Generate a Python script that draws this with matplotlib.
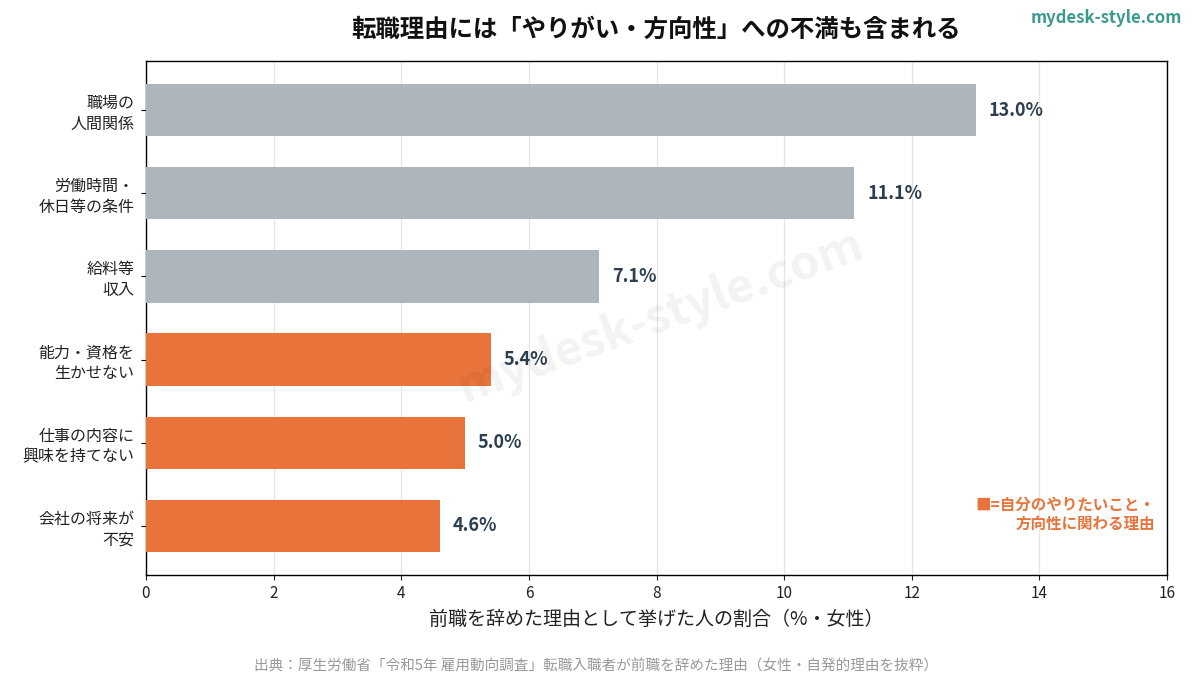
import matplotlib
matplotlib.use("Agg")
import matplotlib.pyplot as plt

plt.rcParams['font.family'] = ['Noto Sans CJK JP', 'DejaVu Sans']

categories = ["職場の\n人間関係", "労働時間・\n休日等の条件", "給料等\n収入",
              "能力・資格を\n生かせない", "仕事の内容に\n興味を持てない", "会社の将来が\n不安"]
values = [13.0, 11.1, 7.1, 5.4, 5.0, 4.6]
is_self = [False, False, False, True, True, True]

GRAY = "#adb5bd"
ORANGE = "#e8743b"
TEXT = "#2c3e50"

fig = plt.figure(figsize=(11.96, 6.76), dpi=100)
ax = fig.add_axes([146/1196, 1 - 575/676, (1167-146)/1196, (575-61)/676])

ypos = list(range(len(categories)))
colors = [ORANGE if s else GRAY for s in is_self]
ax.barh(ypos, values, height=0.63, color=colors, zorder=3)
ax.set_ylim(len(categories) - 0.41, -0.59)
ax.set_xlim(0, 16)
ax.set_xticks(range(0, 17, 2))
ax.set_yticks(ypos)
ax.set_yticklabels(categories, fontsize=11.5, color="#222222", linespacing=1.3)
ax.tick_params(axis='x', labelsize=11, colors="#222222")
ax.tick_params(axis='y', pad=5)
ax.grid(axis='x', color="#e6e6e6", linewidth=1, zorder=0)
for sp in ax.spines.values():
    sp.set_color("black")
    sp.set_linewidth(1.0)

for y, v in zip(ypos, values):
    ax.text(v + 0.2, y, f"{v:.1f}%", va="center", ha="left", fontsize=13,
            fontweight="bold", color=TEXT, zorder=4)

ax.set_xlabel("前職を辞めた理由として挙げた人の割合（%・女性）", fontsize=13.7, color="#222222", labelpad=5)

fig.text(656/1196, 1 - 30/676, "転職理由には「やりがい・方向性」への不満も含まれる",
         ha="center", va="center", fontsize=17.6, fontweight="bold", color="#111111")
fig.text(1182/1196, 1 - 18/676, "mydesk-style.com", ha="right", va="center",
         fontsize=12, fontweight="bold", color="#3a9a8f")

ax.text(0.988, 0.118, "■=自分のやりたいこと・\n方向性に関わる理由", transform=ax.transAxes,
        ha="right", va="center", fontsize=11.2, fontweight="bold", color=ORANGE,
        linespacing=1.3, multialignment="right", zorder=5)

fig.text(596/1196, 1 - 666/676,
         "出典：厚生労働省「令和5年 雇用動向調査」転職入職者が前職を辞めた理由（女性・自発的理由を抜粋）",
         ha="center", va="center", fontsize=10.5, color="#999999")

fig.text(660/1196, 1 - 316/676, "mydesk-style.com", ha="center", va="center",
         fontsize=34, fontweight="bold", color="#000000", alpha=0.05, rotation=20,
         zorder=10)

fig.savefig("out.png", dpi=100)
